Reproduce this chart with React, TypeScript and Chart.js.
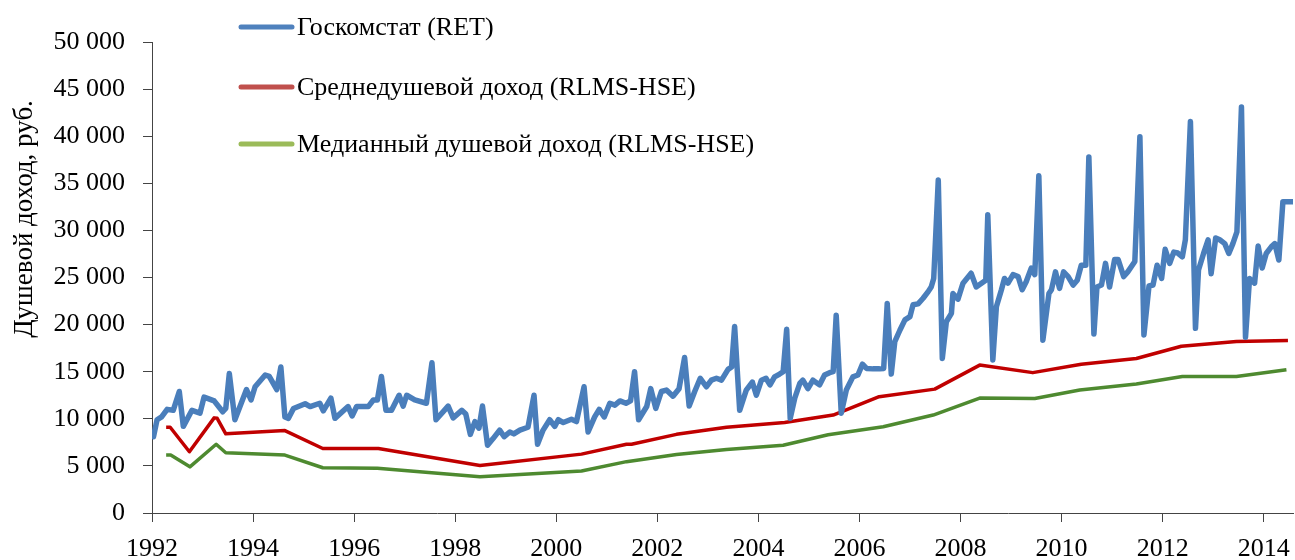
import React, { useEffect, useRef } from "react";
import { Chart, registerables } from "chart.js";

Chart.register(...registerables);

// Goskomstat (RET) monthly series: year position and value (rub.)
const retYears = [
  1992.03, 1992.10, 1992.19, 1992.30, 1992.42, 1992.54, 1992.62, 1992.79, 1992.95,
  1993.03, 1993.23, 1993.40, 1993.46, 1993.53, 1993.64, 1993.87, 1993.96,
  1994.04, 1994.24, 1994.32, 1994.47, 1994.55, 1994.63, 1994.70, 1994.80,
  1995.03, 1995.13, 1995.32, 1995.39, 1995.54, 1995.62, 1995.88, 1995.96,
  1996.05, 1996.28, 1996.38, 1996.46, 1996.54, 1996.63, 1996.74, 1996.89, 1996.97,
  1997.04, 1997.20, 1997.43, 1997.54, 1997.62, 1997.86, 1997.96,
  1998.13, 1998.21, 1998.30, 1998.39, 1998.47, 1998.54, 1998.64, 1998.75, 1998.88, 1998.97,
  1999.08, 1999.16, 1999.28, 1999.44, 1999.56, 1999.63, 1999.74, 1999.87, 1999.97,
  2000.04, 2000.14, 2000.30, 2000.40, 2000.55, 2000.63, 2000.76, 2000.85, 2000.95,
  2001.06, 2001.16, 2001.26, 2001.38, 2001.47, 2001.55, 2001.63, 2001.79, 2001.87, 2001.97,
  2002.08, 2002.18, 2002.31, 2002.43, 2002.54, 2002.63, 2002.74, 2002.85, 2002.97,
  2003.07, 2003.17, 2003.27, 2003.40, 2003.47, 2003.53, 2003.63, 2003.76, 2003.88, 2003.96,
  2004.06, 2004.15, 2004.23, 2004.32, 2004.42, 2004.49, 2004.56, 2004.63, 2004.72, 2004.82, 2004.88, 2004.98,
  2005.08, 2005.21, 2005.31, 2005.41, 2005.48, 2005.54, 2005.64, 2005.74, 2005.87, 2005.97,
  2006.06, 2006.14, 2006.27, 2006.40, 2006.48, 2006.55, 2006.63, 2006.70, 2006.80, 2006.90,
  2007.00, 2007.06, 2007.16, 2007.26, 2007.36, 2007.42, 2007.47, 2007.56, 2007.64, 2007.72, 2007.82, 2007.85, 2007.95,
  2008.05, 2008.21, 2008.31, 2008.50, 2008.54, 2008.64, 2008.71, 2008.81, 2008.87, 2008.94,
  2009.04, 2009.14, 2009.22, 2009.30, 2009.40, 2009.47, 2009.55, 2009.63, 2009.75, 2009.80, 2009.88, 2009.96,
  2010.04, 2010.13, 2010.23, 2010.31, 2010.39, 2010.48, 2010.54, 2010.64, 2010.70, 2010.79, 2010.87, 2010.95,
  2011.05, 2011.12, 2011.23, 2011.31, 2011.45, 2011.55, 2011.63, 2011.73, 2011.81, 2011.89, 2011.98,
  2012.05, 2012.14, 2012.22, 2012.30, 2012.39, 2012.45, 2012.55, 2012.65, 2012.71, 2012.81, 2012.90, 2012.96,
  2013.05, 2013.13, 2013.23, 2013.31, 2013.39, 2013.47, 2013.56, 2013.64, 2013.72, 2013.82, 2013.89, 2013.97,
  2014.05, 2014.15, 2014.22, 2014.30, 2014.38, 2014.58,
];
const retValues = [
  8100, 9900, 10200, 11000, 10900, 12900, 9200, 10900, 10600,
  12300, 11900, 10750, 11100, 14800, 9900, 13100, 12000,
  13400, 14650, 14500, 13100, 15500, 10200, 10050, 11100,
  11600, 11300, 11650, 10850, 12200, 10050, 11300, 10300,
  11300, 11300, 12000, 12000, 14500, 10900, 10900, 12500, 11350,
  12500, 12000, 11650, 15950, 9900, 11350, 10100,
  10900, 10500, 8350, 9700, 9000, 11350, 7200, 7900, 8800, 8100,
  8600, 8400, 8800, 9100, 12500, 7300, 8800, 9900, 9200,
  9900, 9600, 9950, 9700, 13400, 8600, 10200, 11000, 10200,
  11650, 11450, 11900, 11650, 11900, 15000, 9900, 11300, 13200, 11100,
  12900, 13050, 12400, 13200, 16500, 11350, 12900, 14300, 13400,
  14100, 14300, 14100, 15250, 15500, 19800, 10900, 13050, 13900, 12500,
  14100, 14300, 13600, 14450, 14750, 15000, 19500, 10050, 12200, 13750, 14100, 13200,
  14100, 13600, 14650, 14900, 15000, 21000, 10600, 13050, 14450, 14650,
  15800, 15350, 15300, 15300, 15350, 22250, 14750, 18200, 19400, 20500,
  20850, 22100, 22200, 22800, 23500, 24000, 24900, 35350, 16400, 20300, 21200, 23300, 22700,
  24400, 25450, 24000, 24700, 31650, 16250, 21900, 23700, 24900, 24400,
  25300, 25100, 23700, 24550, 26000, 25300, 35800, 18350, 23300, 23700, 25600, 23850,
  25600, 25100, 24200, 24700, 26300, 26300, 37800, 19000, 24000, 24200, 26500, 24000,
  26900, 26900, 25100, 25600, 26700, 39950, 18900, 24100, 24200, 26300, 24900,
  28000, 26500, 27700, 27600, 27200, 29000, 41550, 19600, 25800, 27550, 29000, 25400,
  29200, 29000, 28600, 27550, 28600, 29850, 43100, 18650, 24900, 24400, 28350, 26000,
  27550, 28250, 28600, 26850, 33050, 33050,
];

// RLMS-HSE mean per-capita income
const meanYears = [
  1992.28, 1992.36, 1992.74, 1993.23, 1993.29, 1993.46, 1994.63, 1995.38, 1996.48,
  1998.49, 2000.50, 2001.39, 2001.49, 2002.38, 2003.37, 2004.52, 2005.48, 2006.39,
  2007.49, 2008.38, 2009.43, 2010.39, 2011.48, 2012.37, 2013.46, 2014.48,
];
const meanValues = [
  9100, 9100, 6500, 10100, 10050, 8400, 8750, 6850, 6850,
  5050, 6250, 7300, 7300, 8350, 9100, 9600, 10400, 12350,
  13150, 15700, 14900, 15800, 16400, 17700, 18200, 18300,
];

// RLMS-HSE median per-capita income
const medianYears = [
  1992.28, 1992.37, 1992.75, 1993.27, 1993.46, 1994.63, 1995.38, 1996.46,
  1998.49, 2000.50, 2001.39, 2002.38, 2003.37, 2004.49, 2005.38, 2006.47,
  2007.46, 2008.38, 2009.47, 2010.36, 2011.48, 2012.39, 2013.46, 2014.45,
];
const medianValues = [
  6150, 6150, 4900, 7300, 6400, 6150, 4800, 4750,
  3850, 4450, 5450, 6200, 6750, 7200, 8300, 9150,
  10400, 12200, 12150, 13050, 13700, 14500, 14500, 15200,
];

const seriesNames = [
  "Госкомстат (RET)",
  "Среднедушевой доход (RLMS-HSE)",
  "Медианный душевой доход (RLMS-HSE)",
];
const lineColors = ["#4A7EBB", "#C00000", "#4E8A30"];
const legendColors = ["#4F81BD", "#C0504D", "#9BBB59"];
const xTickYears = [1992, 1994, 1996, 1998, 2000, 2002, 2004, 2006, 2008, 2010, 2012, 2014];
const yAxisTitle = "Душевой доход, руб.";

const FONT = '"Liberation Serif", "Times New Roman", serif';

const fmt = (v: number) => String(v).replace(/\B(?=(\d{3})+(?!\d))/g, " ");

const toPoints = (xs: number[], ys: number[]) => xs.map((x, i) => ({ x, y: ys[i] }));

const overlayPlugin = {
  id: "overlay",
  afterDraw(chart: any) {
    const ctx = chart.ctx;
    ctx.save();
    // y-axis title
    ctx.font = `27px ${FONT}`;
    ctx.fillStyle = "#000";
    ctx.textAlign = "center";
    ctx.textBaseline = "middle";
    ctx.translate(25, 219);
    ctx.rotate(-Math.PI / 2);
    ctx.fillText(yAxisTitle, 0, 0);
    ctx.restore();

    // legend
    ctx.save();
    const rows = [27, 87, 144];
    seriesNames.forEach((name, i) => {
      ctx.strokeStyle = legendColors[i];
      ctx.lineWidth = 5;
      ctx.lineCap = "round";
      ctx.beginPath();
      ctx.moveTo(241, rows[i]);
      ctx.lineTo(292, rows[i]);
      ctx.stroke();
      ctx.font = `26px ${FONT}`;
      ctx.fillStyle = "#000";
      ctx.textAlign = "left";
      ctx.textBaseline = "middle";
      ctx.fillText(name, 297, rows[i] + 1);
    });
    ctx.restore();
  },
};

export default function App() {
  const ref = useRef<HTMLCanvasElement>(null);
  useEffect(() => {
    document.body.style.margin = "0";
    const canvas = ref.current;
    if (!canvas) return;
    const chart = new Chart(canvas, {
      type: "line",
      data: {
        datasets: [
          {
            label: seriesNames[0],
            data: toPoints(retYears, retValues),
            borderColor: lineColors[0],
            borderWidth: 5.5,
            pointRadius: 0,
            tension: 0,
            borderJoinStyle: "round",
            borderCapStyle: "round",
          },
          {
            label: seriesNames[1],
            data: toPoints(meanYears, meanValues),
            borderColor: lineColors[1],
            borderWidth: 3.5,
            pointRadius: 0,
            tension: 0,
            borderJoinStyle: "round",
          },
          {
            label: seriesNames[2],
            data: toPoints(medianYears, medianValues),
            borderColor: lineColors[2],
            borderWidth: 3.5,
            pointRadius: 0,
            tension: 0,
            borderJoinStyle: "round",
          },
        ],
      },
      options: {
        responsive: false,
        animation: false,
        layout: { padding: { top: 42, right: 2, left: 0, bottom: 0 } },
        plugins: { legend: { display: false }, tooltip: { enabled: false } },
        scales: {
          x: {
            type: "linear",
            min: 1992,
            max: 2014.58,
            afterBuildTicks: (s: any) => {
              s.ticks = xTickYears.map((v) => ({ value: v }));
            },
            afterFit: (s: any) => {
              s.height = 47;
              s.paddingLeft = 0;
              s.paddingRight = 0;
            },
            ticks: {
              autoSkip: false,
              maxRotation: 0,
              padding: 12,
              color: "#000",
              font: { family: FONT, size: 26 },
              callback: (v: any) => String(v),
            },
            grid: {
              drawOnChartArea: false,
              drawTicks: true,
              tickLength: 9,
              color: "#444",
            },
            border: { display: true, color: "#444", width: 1 },
          },
          y: {
            min: 0,
            max: 50000,
            afterFit: (s: any) => {
              s.width = 152;
            },
            ticks: {
              stepSize: 5000,
              padding: 18,
              color: "#000",
              font: { family: FONT, size: 26 },
              callback: (v: any) => fmt(Number(v)),
            },
            grid: {
              drawOnChartArea: false,
              drawTicks: true,
              tickLength: 9,
              color: "#444",
            },
            border: { display: true, color: "#444", width: 1 },
          },
        },
      },
      plugins: [overlayPlugin],
    });
    return () => chart.destroy();
  }, []);
  return <canvas ref={ref} width={1295} height={560} style={{ display: "block" }} />;
}
